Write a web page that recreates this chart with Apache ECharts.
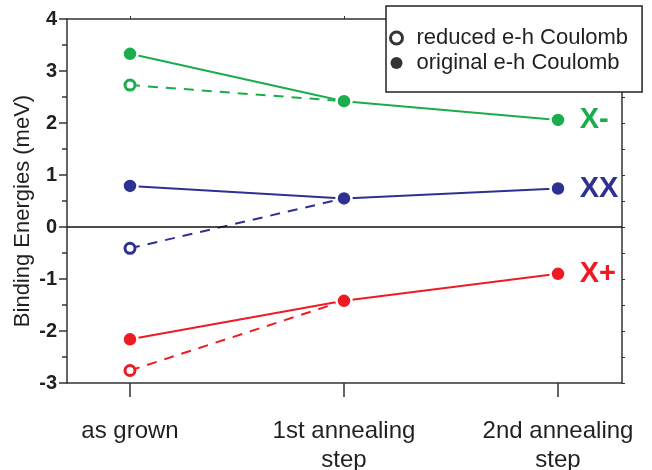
<!DOCTYPE html>
<html>
<head>
<meta charset="utf-8">
<script src="https://cdn.jsdelivr.net/npm/echarts@6/dist/echarts.min.js"></script>
<style>html,body{margin:0;padding:0;background:#fff;}#c{width:652px;height:470px;}</style>
</head>
<body>
<div id="c"></div>
<script>
// ---- data ----
var categories = ['as grown', '1st annealing\nstep', '2nd annealing\nstep'];
var categoryPos = [0, 1, 2];
var yTicks = [-3, -2, -1, 0, 1, 2, 3, 4];
var seriesNames = ['X-', 'XX', 'X+'];
var legendNames = ['reduced e-h Coulomb', 'original e-h Coulomb'];
var xMinusOriginal = [3.33, 2.42, 2.06];
var xMinusReduced = [2.73, 2.42];
var xxOriginal = [0.79, 0.55, 0.74];
var xxReduced = [-0.41, 0.55];
var xPlusOriginal = [-2.16, -1.42, -0.90];
var xPlusReduced = [-2.76, -1.42];

var colors = ['#1aad4b', '#2e3192', '#ed1c24'];
var FONT = '"Liberation Sans", Arial, sans-serif';
var TXT = '#231f20';
var FRAME = '#333333';

function origSeries(name, vals, color) {
  return {
    type: 'line', name: name, xAxisIndex: 0, yAxisIndex: 0, z: 3,
    data: vals.map(function (v, i) {
      var item = { value: [categoryPos[i], v] };
      if (i === vals.length - 1) {
        item.label = {
          show: true, position: 'right', distance: 13, formatter: name,
          color: color, fontFamily: FONT, fontWeight: 'bold', fontSize: 29
        };
      }
      return item;
    }),
    symbol: 'circle', symbolSize: 15,
    itemStyle: { color: color, borderColor: '#fff', borderWidth: 2.5 },
    lineStyle: { color: color, width: 2 },
    emphasis: { disabled: true }, silent: true, animation: false
  };
}
function redSeries(name, vals, color) {
  return {
    type: 'line', name: name + ' reduced', xAxisIndex: 0, yAxisIndex: 0, z: 2,
    data: vals.map(function (v, i) {
      var item = { value: [categoryPos[i], v] };
      if (i > 0) item.symbol = 'none';
      return item;
    }),
    symbol: 'circle', symbolSize: 10,
    itemStyle: { color: '#fff', borderColor: color, borderWidth: 3 },
    lineStyle: { color: color, width: 2, type: [10, 8] },
    emphasis: { disabled: true }, silent: true, animation: false
  };
}

var xMin = -0.2944, xMax = 2.299;
var chart = echarts.init(document.getElementById('c'), null, { renderer: 'canvas' });
var series = [
  redSeries(seriesNames[0], xMinusReduced, colors[0]),
  redSeries(seriesNames[1], xxReduced, colors[1]),
  redSeries(seriesNames[2], xPlusReduced, colors[2]),
  origSeries(seriesNames[0], xMinusOriginal, colors[0]),
  origSeries(seriesNames[1], xxOriginal, colors[1]),
  origSeries(seriesNames[2], xPlusOriginal, colors[2]),
  { type: 'scatter', name: legendNames[0], data: [], itemStyle: { color: '#000' } },
  { type: 'scatter', name: legendNames[1], data: [], itemStyle: { color: '#000' } }
];
series[0].markLine = {
  silent: true, symbol: 'none', label: { show: false },
  lineStyle: { color: '#111', width: 1.5, type: 'solid' },
  data: [{ yAxis: 0 }], animation: false
};

chart.setOption({
  animation: false,
  backgroundColor: '#fff',
  grid: { left: 67, right: 30, top: 19, bottom: 87, containLabel: false, outerBoundsMode: 'none' },
  legend: {
    left: 386, top: 6, orient: 'vertical',
    padding: [21, 14, 18, 3],
    itemGap: 3, itemWidth: 12, itemHeight: 12,
    backgroundColor: '#fff', borderColor: '#222', borderWidth: 1.5, borderRadius: 0,
    selectedMode: false,
    textStyle: { fontFamily: FONT, fontSize: 22, color: TXT, padding: [0, 0, 0, 9], lineHeight: 22 },
    data: [
      { name: legendNames[0], icon: 'circle', itemStyle: { color: '#fff', borderColor: '#000', borderWidth: 3 } },
      { name: legendNames[1], icon: 'circle', itemStyle: { color: '#000', borderWidth: 0 } }
    ]
  },
  xAxis: [{
    type: 'value', position: 'bottom', min: xMin, max: xMax,
    axisLine: { show: true, onZero: false, lineStyle: { color: FRAME, width: 1.5 } },
    axisTick: { show: true, customValues: categoryPos, length: 14, inside: false, lineStyle: { color: FRAME, width: 1.5 } },
    axisLabel: {
      show: true, customValues: categoryPos, margin: 34,
      formatter: function (v) { return categories[Math.round(v)]; },
      fontFamily: FONT, fontSize: 24, color: TXT, lineHeight: 29, align: 'center'
    },
    splitLine: { show: false }
  }, {
    type: 'value', position: 'top', min: xMin, max: xMax,
    axisLine: { show: true, onZero: false, lineStyle: { color: FRAME, width: 1.5 } },
    axisTick: { show: true, customValues: categoryPos, length: 3, lineStyle: { color: FRAME, width: 1 } },
    axisLabel: { show: false },
    splitLine: { show: false }
  }],
  yAxis: [{
    type: 'value', position: 'left', min: yTicks[0], max: yTicks[yTicks.length - 1], interval: 1,
    name: 'Binding Energies (meV)', nameLocation: 'middle', nameGap: 33, nameRotate: 90,
    nameMoveOverlap: false,
    nameTextStyle: { fontFamily: FONT, fontSize: 22, color: TXT, padding: [0, 20, 0, 0] },
    axisLine: { show: true, onZero: false, lineStyle: { color: FRAME, width: 1.5 } },
    axisTick: { show: true, length: 8, lineStyle: { color: FRAME, width: 1.5 } },
    minorTick: { show: true, splitNumber: 2, length: 5, lineStyle: { color: FRAME, width: 1.5 } },
    axisLabel: { margin: 10, fontFamily: FONT, fontWeight: 'bold', fontSize: 20, color: TXT },
    splitLine: { show: false }, minorSplitLine: { show: false }
  }, {
    type: 'value', position: 'right', min: yTicks[0], max: yTicks[yTicks.length - 1], interval: 1,
    axisLine: { show: true, onZero: false, lineStyle: { color: FRAME, width: 1.5 } },
    axisTick: { show: true, length: 3, lineStyle: { color: FRAME, width: 1 } },
    minorTick: { show: true, splitNumber: 2, length: 3, lineStyle: { color: FRAME, width: 1 } },
    axisLabel: { show: false },
    splitLine: { show: false }, minorSplitLine: { show: false }
  }],
  series: series
});
</script>
</body>
</html>
